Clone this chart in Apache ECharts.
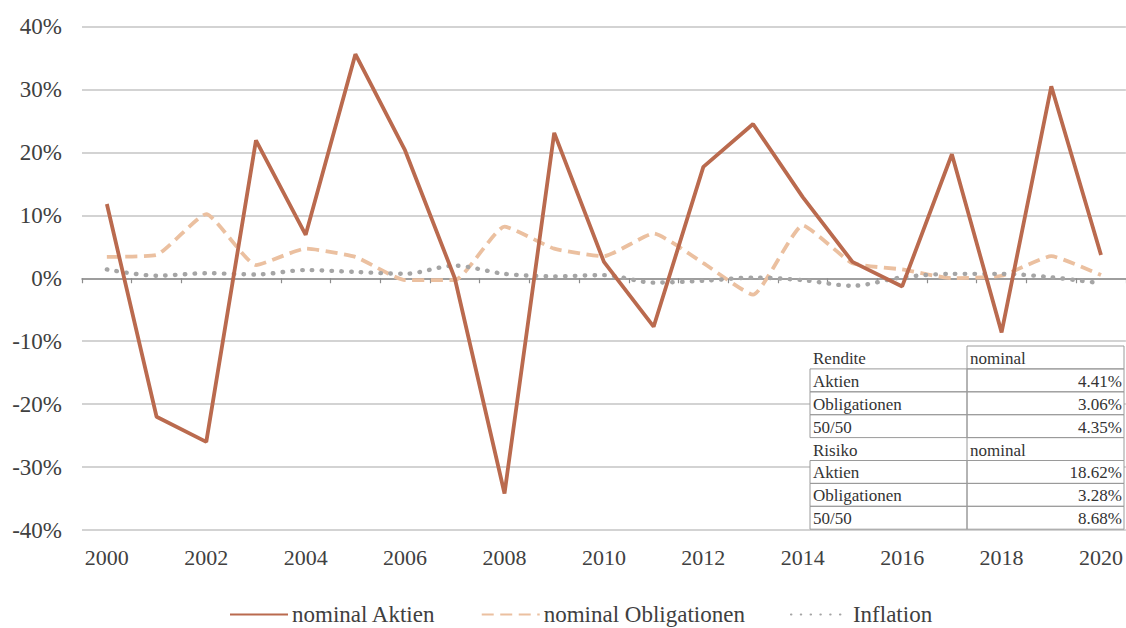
<!DOCTYPE html>
<html>
<head>
<meta charset="utf-8">
<script src="https://cdn.jsdelivr.net/npm/echarts@6/dist/echarts.min.js"></script>
<style>
  html, body { margin: 0; padding: 0; background: #fff; }
  #chart { width: 1126px; height: 628px; }
</style>
</head>
<body>
<div id="chart"></div>
<script>
// Jahre 2000–2020
const years = ['2000','2001','2002','2003','2004','2005','2006','2007','2008','2009','2010',
               '2011','2012','2013','2014','2015','2016','2017','2018','2019','2020'];

// Jährliche Renditen in %
const aktien = [11.8, -22.0, -26.0, 21.9, 6.9, 35.6, 20.3, 0.0, -34.2, 23.1, 2.6,
                -7.7, 17.7, 24.5, 12.9, 2.6, -1.3, 19.7, -8.6, 30.5, 3.7];
const obligationen = [3.4, 3.7, 10.2, 2.1, 4.7, 3.4, -0.3, -0.3, 8.2, 4.7, 3.5,
                      7.1, 2.4, -2.6, 8.4, 2.4, 1.4, 0.0, 0.4, 3.5, 0.5];
const inflation = [1.4, 0.4, 0.8, 0.6, 1.3, 1.0, 0.7, 2.0, 0.7, 0.3, 0.5,
                   -0.7, -0.4, 0.1, -0.3, -1.2, 0.15, 0.7, 0.7, 0.15, -0.8];

const seriesNames = ['nominal Aktien', 'nominal Obligationen', 'Inflation'];

// Kennzahlen-Tabelle: [Bezeichnung, Wert, Kopfzeile?]
const tableRows = [
  ['Rendite', 'nominal', true],
  ['Aktien', '4.41%', false],
  ['Obligationen', '3.06%', false],
  ['50/50', '4.35%', false],
  ['Risiko', 'nominal', true],
  ['Aktien', '18.62%', false],
  ['Obligationen', '3.28%', false],
  ['50/50', '8.68%', false]
];

const FONT = 'Liberation Serif';
const TEXT = '#404040';

// Tabelle als Grafik-Elemente
function buildTable() {
  const x0 = 810, x1 = 967, x2 = 1124, y0 = 346, rh = 22.9;
  const border = { stroke: '#9a9a9a', lineWidth: 1, fill: null };
  const txt = (s, x, y, align) => ({
    type: 'text', x: x, y: y, z: 102, silent: true,
    style: { text: s, fontFamily: FONT, fontSize: 17, fill: '#333', align: align, verticalAlign: 'middle' }
  });
  const kids = [{
    type: 'rect', z: 100, silent: true,
    shape: { x: x0, y: y0, width: x2 - x0, height: rh * tableRows.length },
    style: { fill: '#fff' }
  }];
  tableRows.forEach((r, i) => {
    const y = y0 + i * rh;
    if (!r[2]) {
      kids.push({ type: 'rect', z: 101, silent: true, shape: { x: x0, y: y, width: x1 - x0, height: rh }, style: border });
    }
    kids.push({ type: 'rect', z: 101, silent: true, shape: { x: x1, y: y, width: x2 - x1, height: rh }, style: border });
    kids.push(txt(r[0], x0 + 3, y + rh / 2 + 1, 'left'));
    if (r[2]) kids.push(txt(r[1], x1 + 3, y + rh / 2 + 1, 'left'));
    else kids.push(txt(r[1], x2 - 2, y + rh / 2 + 1, 'right'));
  });
  return kids;
}

const chart = echarts.init(document.getElementById('chart'), null, { renderer: 'svg' });

chart.setOption({
  animation: false,
  backgroundColor: '#fff',
  textStyle: { fontFamily: FONT },
  grid: { left: 82, right: 0, top: 26.5, bottom: 98, containLabel: false },
  legend: {
    data: seriesNames,
    top: 598,
    left: 224,
    itemWidth: 58,
    itemHeight: 14,
    itemGap: 45,
    itemStyle: { opacity: 0 },
    textStyle: { fontFamily: FONT, fontSize: 23, color: TEXT, padding: [0, 0, 0, -1] }
  },
  xAxis: [
    {
      type: 'category', data: years, position: 'bottom',
      axisLine: { show: false, onZero: false },
      axisTick: { show: false },
      axisLabel: { interval: 1, margin: 16, fontFamily: FONT, fontSize: 22, color: TEXT },
      splitLine: { show: false }
    },
    {
      type: 'category', data: years, position: 'bottom',
      axisLine: { show: true, onZero: true, lineStyle: { color: '#8c8c8c', width: 1.5 } },
      axisTick: { show: true, interval: 0, length: 5, lineStyle: { color: '#8c8c8c', width: 1.2 } },
      axisLabel: { show: false },
      splitLine: { show: false }
    }
  ],
  yAxis: {
    type: 'value', min: -40, max: 40, interval: 10,
    axisLine: { show: false },
    axisTick: { show: false },
    axisLabel: { formatter: '{value}%', margin: 20, fontFamily: FONT, fontSize: 23, color: TEXT },
    splitLine: { lineStyle: { color: '#c4c4c4', width: 1.5 } }
  },
  series: [
    {
      name: seriesNames[1], type: 'line', data: obligationen, xAxisIndex: 0,
      symbol: 'none', smooth: 0.15, z: 2,
      lineStyle: { color: '#ebc0a0', width: 3.8, type: [12, 6.5] },
      itemStyle: { color: '#ebc0a0' }
    },
    {
      name: seriesNames[2], type: 'line', data: inflation, xAxisIndex: 0,
      symbol: 'none', smooth: 0.3, z: 3,
      lineStyle: { color: '#a5a5a5', width: 4.4, type: [0.5, 9.3], cap: 'round' },
      itemStyle: { color: '#a5a5a5' }
    },
    {
      name: seriesNames[0], type: 'line', data: aktien, xAxisIndex: 0,
      symbol: 'none', z: 4,
      lineStyle: { color: '#ba6a4e', width: 3.8 },
      itemStyle: { color: '#ba6a4e' }
    }
  ],
  graphic: buildTable()
});
</script>
</body>
</html>
